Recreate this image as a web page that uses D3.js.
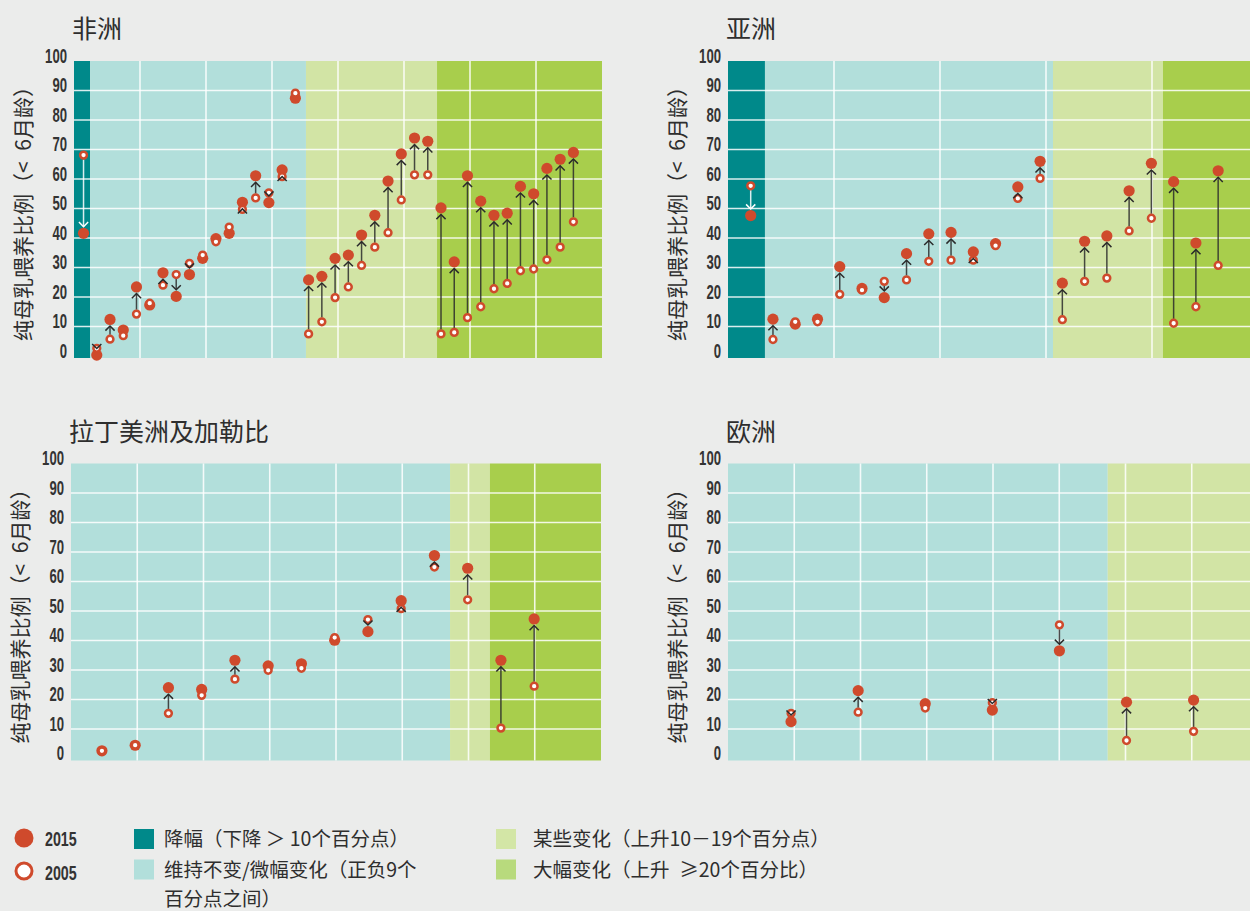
<!DOCTYPE html>
<html>
<head>
<meta charset="utf-8">
<script src="https://cdn.jsdelivr.net/npm/d3@7"></script>
<style>
body { margin: 0; background: #ebeceb; }
svg { display: block; }
.cjk { font-family: "Noto Sans CJK SC", "Noto Sans", sans-serif; fill: #2e2e2e; }
.num { font-family: "Liberation Sans", "DejaVu Sans", sans-serif; font-weight: bold; fill: #333; }
</style>
</head>
<body>
<div id="chart"></div>
<script>

// change categories (band colours), in legend order
var categories = ["降幅（下降 ＞ 10个百分点）", "维持不变/微幅变化（正负9个", "某些变化（上升10－19个百分点）", "大幅变化（上升\u2002≥20个百分比）"];
var bandColors = ["#00898a", "#b2dfdb", "#d2e4a5", "#a8ce4c"];
var legendColors = ["#00898a", "#b2dfdb", "#d3e6a6", "#b8da7d"];
var years = ["2015", "2005"];
var yTicks = [0, 10, 20, 30, 40, 50, 60, 70, 80, 90, 100];
var yTitle = "纯母乳喂养比例（<\u20026月龄）";

var africa2005 = [68.1, 2.6, 5.7, 6.9, 14.2, 17.9, 24.0, 27.6, 31.4, 34.2, 38.7, 43.7, 49.7, 53.6, 55.3, 60.8, 89.1,
	7.5, 11.6, 19.8, 23.4, 30.7, 36.9, 41.8, 52.9, 61.4, 61.4,
	7.5, 8.0, 13.0, 16.7, 22.8, 24.6, 28.9, 29.5, 32.6, 36.9, 45.5];
var africa2015 = [41.6, 0.3, 12.4, 8.8, 23.4, 17.3, 28.2, 20.2, 27.6, 33.1, 39.8, 41.6, 52.1, 61.1, 52.0, 63.1, 87.4,
	25.8, 27.0, 33.1, 34.2, 41.0, 47.7, 59.3, 68.5, 73.9, 72.8,
	50.2, 31.9, 61.1, 52.5, 47.7, 48.4, 57.5, 55.0, 63.6, 66.7, 69.0];
var africaCounts = [1, 16, 10, 11];

var asia2005 = [57.7, 5.6, 11.6, 11.6, 20.9, 22.3, 25.3, 25.8, 32.1, 32.5, 32.5, 37.4, 53.4, 60.2,
	12.3, 25.3, 26.4, 42.4, 46.7, 11.1, 16.7, 30.7];
var asia2015 = [47.6, 12.5, 10.8, 12.5, 30.3, 22.9, 19.8, 34.7, 41.4, 41.9, 35.3, 38.1, 57.3, 66.0,
	24.7, 38.9, 40.7, 56.0, 65.3, 59.1, 38.3, 62.8];
var asiaCounts = [1, 13, 5, 3];

var latam2005 = [2.6, 4.5, 15.3, 21.4, 26.9, 29.9, 30.6, 41.0, 47.1, 50.8, 64.9, 53.8, 10.3, 24.5];
var latam2015 = [2.6, 4.5, 24.0, 23.4, 33.3, 31.4, 32.1, 40.1, 43.0, 53.5, 68.8, 64.5, 33.3, 47.3];
var latamCounts = [0, 11, 1, 2];

var europe2005 = [15.3, 15.7, 17.1, 18.9, 45.3, 6.1, 9.2];
var europe2015 = [12.5, 23.0, 18.6, 16.4, 36.5, 19.1, 19.8];
var europeCounts = [0, 5, 2, 0];

// layout of each panel; slots = x domain in country-slot units, breaks = band edges in slot units
var panels = [
	{title: "非洲", v05: africa2005, v15: africa2015, counts: africaCounts,
		left: 74, top: 61, width: 528, grid: 8, slots: [-0.72, 39.16], breaks: [0.49, 16.8, 26.7]},
	{title: "亚洲", v05: asia2005, v15: asia2015, counts: asiaCounts,
		left: 728, top: 61, width: 530, grid: 5, slots: [-1.02, 22.79], breaks: [0.64, 13.58, 18.52]},
	{title: "拉丁美洲及加勒比", v05: latam2005, v15: latam2015, counts: latamCounts,
		left: 71, top: 463.5, width: 530, grid: 8, slots: [-0.93, 15.01], breaks: [10.47, 11.67]},
	{title: "欧洲", v05: europe2005, v15: europe2015, counts: europeCounts,
		left: 728, top: 463.5, width: 530, grid: 8, slots: [-0.94, 6.96], breaks: [4.72]}
];

var red = "#cf4a2c";
var plotH = 295;
var rFill = 5.6, rOpen = 3.4, openStroke = 2.5;
var narrow = 0.64;   // condensed look for the numerals

var svg = d3.select("#chart").append("svg")
	.attr("width", 1250)
	.attr("height", 911);

svg.append("rect").attr("width", 1250).attr("height", 911).attr("fill", "#ebeceb");

panels.forEach(function(p) {
	var g = svg.append("g");
	var x = d3.scaleLinear().domain(p.slots).range([p.left, p.left + p.width]);
	var y = d3.scaleLinear().domain([0, 100]).range([p.top + plotH, p.top]);
	var xGrid = d3.scaleLinear().domain([0, p.grid]).range([p.left, p.left + p.width]);

	// bands for the categories present in this panel
	var present = [];
	p.counts.forEach(function(c, k) { if (c > 0) present.push(k); });
	var edges = [p.slots[0]].concat(p.breaks, [p.slots[1]]);
	var bands = present.map(function(cat, k) {
		return {cat: cat, x0: edges[k], x1: edges[k + 1]};
	});

	g.selectAll("rect.band")
		.data(bands)
		.enter()
		.append("rect")
		.attr("class", "band")
		.attr("x", function(d) { return x(d.x0); })
		.attr("width", function(d) { return x(d.x1) - x(d.x0); })
		.attr("y", y(100))
		.attr("height", y(0) + 2 - y(100))
		.attr("fill", function(d) { return bandColors[d.cat]; });

	// grid
	g.selectAll("line.h")
		.data(yTicks.filter(function(v) { return v > 0 && v < 100; }))
		.enter()
		.append("line")
		.attr("x1", p.left).attr("x2", p.left + p.width)
		.attr("y1", function(d) { return y(d); })
		.attr("y2", function(d) { return y(d); })
		.attr("stroke", "#fff").attr("stroke-opacity", 0.85).attr("stroke-width", 1.6);

	g.selectAll("line.v")
		.data(d3.range(1, p.grid))
		.enter()
		.append("line")
		.attr("x1", function(d) { return xGrid(d); })
		.attr("x2", function(d) { return xGrid(d); })
		.attr("y1", y(100)).attr("y2", y(0) + 2)
		.attr("stroke", "#fff").attr("stroke-opacity", 0.85).attr("stroke-width", 1.6);

	// y tick labels
	g.selectAll("text.tick")
		.data(yTicks)
		.enter()
		.append("text")
		.attr("class", "num")
		.attr("transform", function(d) {
			return "translate(" + (p.left - 7) + "," + (y(d) + 1.5) + ") scale(" + narrow + ",1)";
		})
		.attr("text-anchor", "end")
		.style("font-size", "20.5px")
		.text(function(d) { return d; });

	// titles
	g.append("text")
		.attr("class", "cjk")
		.attr("x", p.left - 2)
		.attr("y", p.top - 23)
		.style("font-size", "25px")
		.text(p.title);

	g.append("text")
		.attr("class", "cjk")
		.attr("transform", "translate(" + (p.left - 52) + "," + (p.top + plotH / 2) + ") rotate(-90)")
		.attr("text-anchor", "middle")
		.attr("dominant-baseline", "central")
		.style("font-size", "21px")
		.text(yTitle);

	// points with their category
	var pts = [];
	var idx = 0;
	p.counts.forEach(function(c, k) {
		for (var j = 0; j < c; j++) {
			pts.push({i: idx, cat: k, v05: p.v05[idx], v15: p.v15[idx]});
			idx++;
		}
	});

	var arrows = pts.filter(function(d) { return Math.abs(d.v15 - d.v05) >= 2.2; });

	function dir(d) { return y(d.v05) > y(d.v15) ? 1 : -1; }
	function tipY(d) { return y(d.v15) + dir(d) * (rFill + 1); }
	function inkColor(d) { return d.cat == 0 ? "#fff" : "#2b2b2b"; }

	g.selectAll("line.arrow")
		.data(arrows.filter(function(d) { return dir(d) * (y(d.v05) - dir(d) * (rOpen + 1) - tipY(d)) > 0; }))
		.enter()
		.append("line")
		.attr("x1", function(d) { return x(d.i); })
		.attr("x2", function(d) { return x(d.i); })
		.attr("y1", function(d) { return y(d.v05) - dir(d) * (rOpen + 1); })
		.attr("y2", function(d) { return tipY(d); })
		.attr("stroke", inkColor)
		.attr("stroke-opacity", 0.85)
		.attr("stroke-width", 1.5);

	g.selectAll("circle.y15")
		.data(pts)
		.enter()
		.append("circle")
		.attr("cx", function(d) { return x(d.i); })
		.attr("cy", function(d) { return y(d.v15); })
		.attr("r", rFill)
		.attr("fill", red);

	g.selectAll("circle.y05")
		.data(pts)
		.enter()
		.append("circle")
		.attr("cx", function(d) { return x(d.i); })
		.attr("cy", function(d) { return y(d.v05); })
		.attr("r", rOpen)
		.attr("fill", "#fff")
		.attr("stroke", red)
		.attr("stroke-width", openStroke);

	// chevron heads
	g.selectAll("path.head")
		.data(arrows)
		.enter()
		.append("path")
		.attr("d", function(d) {
			var cx = x(d.i), t = tipY(d), s = dir(d);
			return "M" + (cx - 4.6) + "," + (t + s * 4.6) + "L" + cx + "," + t + "L" + (cx + 4.6) + "," + (t + s * 4.6);
		})
		.attr("fill", "none")
		.attr("stroke", inkColor)
		.attr("stroke-width", 1.5);
});

// legend
var legend = svg.append("g");

legend.append("circle").attr("cx", 24).attr("cy", 838).attr("r", 9.5).attr("fill", red);
legend.append("circle").attr("cx", 24).attr("cy", 871).attr("r", 8).attr("fill", "#fff")
	.attr("stroke", red).attr("stroke-width", 3);

legend.selectAll("text.year")
	.data(years)
	.enter()
	.append("text")
	.attr("class", "num")
	.attr("transform", function(d, i) { return "translate(45," + (846 + i * 34) + ") scale(0.68,1)"; })
	.style("font-size", "21px")
	.text(function(d) { return d; });

var legendItems = categories.map(function(c, k) {
	return {label: c, color: legendColors[k], col: Math.floor(k / 2), row: k % 2};
});

legend.selectAll("rect.key")
	.data(legendItems)
	.enter()
	.append("rect")
	.attr("x", function(d) { return d.col ? 496 : 134; })
	.attr("y", function(d) { return 829 + d.row * 30.5; })
	.attr("width", 20)
	.attr("height", 20)
	.attr("fill", function(d) { return d.color; });

legend.selectAll("text.key")
	.data(legendItems)
	.enter()
	.append("text")
	.attr("class", "cjk")
	.attr("x", function(d) { return d.col ? 533 : 164; })
	.attr("y", function(d) { return 846 + d.row * 31; })
	.style("font-size", "19.5px")
	.text(function(d) { return d.label; });

legend.append("text")
	.attr("class", "cjk")
	.attr("x", 164)
	.attr("y", 906)
	.style("font-size", "19.5px")
	.text("百分点之间）");

</script>
</body>
</html>
